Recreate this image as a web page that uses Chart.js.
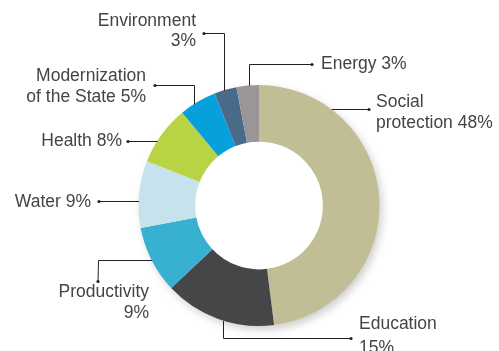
<!DOCTYPE html>
<html lang="en">
<head>
    <meta charset="UTF-8">
    <title>Budget by sector</title>
    <script src="https://cdn.jsdelivr.net/npm/chart.js"></script>
    <style>
        html, body { margin: 0; padding: 0; background: #fff; }
        canvas { display: block; }
    </style>
</head>
<body>
    <canvas id="sectorChart" width="499" height="351"></canvas>
    <script>
        // sectors, clockwise from 12 o'clock
        const sectors = ['Social protection', 'Education', 'Productivity', 'Water', 'Health', 'Modernization of the State', 'Environment', 'Energy'];
        const shares = [48, 15, 9, 9, 8, 5, 3, 3];
        const sectorColors = ['#c1be96', '#464648', '#37b0d1', '#c6e2ec', '#b8d343', '#08a0dc', '#4a6a89', '#9a9597'];

        // label text ({v} -> share) and leader routing
        const labelSpecs = [
            { lines: ['Social', 'protection {v}%'], x: 376, ys: [102, 123], align: 'left', dot: [369, 109], bend: null, end: { y: 109, side: 1 } },
            { lines: ['Education', '{v}%'], x: 359, ys: [324, 348], align: 'left', dot: [351, 338], bend: [223, 338], end: { x: 223, side: 1 } },
            { lines: ['Productivity', '{v}%'], x: 149, ys: [292, 313], align: 'right', dot: [98, 281], bend: [98, 260], end: { y: 260, side: -1 } },
            { lines: ['Water {v}%'], x: 91, ys: [202], align: 'right', dot: [99, 201], bend: null, end: { y: 201, side: -1 } },
            { lines: ['Health {v}%'], x: 122, ys: [141], align: 'right', dot: [128, 141], bend: null, end: { y: 141, side: -1 } },
            { lines: ['Modernization', 'of the State {v}%'], x: 146, ys: [76, 97], align: 'right', dot: [155, 85], bend: [194, 85], end: { x: 194, side: -1 } },
            { lines: ['Environment', '{v}%'], x: 196, ys: [21, 41], align: 'right', dot: [204, 33], bend: [224, 33], end: { x: 224, side: -1 } },
            { lines: ['Energy {v}%'], x: 321, ys: [64], align: 'left', dot: [312, 64], bend: [249, 64], end: { x: 249, side: -1 } }
        ];

        // soft shadow outside the ring only
        const ringShadow = {
            id: 'ringShadow',
            beforeDatasetsDraw(chart) {
                const arc = chart.getDatasetMeta(0).data[0];
                if (!arc) return;
                const { x, y, outerRadius } = arc;
                const ctx = chart.ctx;
                ctx.save();
                ctx.beginPath();
                ctx.rect(0, 0, chart.width, chart.height);
                ctx.arc(x, y, outerRadius - 0.5, 0, Math.PI * 2);
                ctx.clip('evenodd');
                ctx.shadowColor = 'rgba(0, 0, 0, 0.22)';
                ctx.shadowBlur = 10;
                ctx.shadowOffsetX = 3;
                ctx.shadowOffsetY = 4;
                ctx.fillStyle = '#ffffff';
                ctx.beginPath();
                ctx.arc(x, y, outerRadius - 1, 0, Math.PI * 2);
                ctx.fill();
                ctx.restore();
            }
        };

        // outside labels with leader lines ending on the ring edge
        const leaderLabels = {
            id: 'leaderLabels',
            afterDatasetsDraw(chart) {
                const meta = chart.getDatasetMeta(0);
                const ctx = chart.ctx;
                const first = meta.data[0];
                const cx = first.x, cy = first.y, R = first.outerRadius;

                ctx.save();
                labelSpecs.forEach((spec, i) => {
                    const value = chart.data.datasets[0].data[i];
                    let ex, ey;
                    if (spec.end.x !== undefined) {
                        ex = spec.end.x;
                        ey = cy + spec.end.side * Math.sqrt(Math.max(R * R - (ex - cx) * (ex - cx), 0));
                    } else {
                        ey = spec.end.y;
                        ex = cx + spec.end.side * Math.sqrt(Math.max(R * R - (ey - cy) * (ey - cy), 0));
                    }

                    ctx.strokeStyle = '#222';
                    ctx.lineWidth = 1;
                    ctx.beginPath();
                    ctx.moveTo(spec.dot[0], spec.dot[1] + 0.5);
                    if (spec.bend) ctx.lineTo(spec.bend[0] + 0.5, spec.bend[1] + 0.5);
                    ctx.lineTo(ex + 0.5, ey + 0.5);
                    ctx.stroke();

                    ctx.fillStyle = '#222';
                    ctx.beginPath();
                    ctx.arc(spec.dot[0], spec.dot[1] + 0.5, 1.6, 0, Math.PI * 2);
                    ctx.fill();

                    ctx.fillStyle = '#444';
                    ctx.font = '17.5px "Liberation Sans", Arial, sans-serif';
                    ctx.textAlign = spec.align;
                    ctx.textBaseline = 'middle';
                    spec.lines.forEach((line, k) => {
                        ctx.fillText(line.replace('{v}', value), spec.x, spec.ys[k]);
                    });
                });
                ctx.restore();
            }
        };

        const ctx = document.getElementById('sectorChart').getContext('2d');
        const sectorChart = new Chart(ctx, {
            type: 'doughnut',
            data: {
                labels: sectors,
                datasets: [{
                    data: shares,
                    backgroundColor: sectorColors,
                    borderWidth: 0,
                    hoverOffset: 0
                }]
            },
            options: {
                responsive: false,
                animation: false,
                cutout: '53%',
                layout: {
                    padding: { left: 138, right: 119, top: 85, bottom: 25 }
                },
                plugins: {
                    legend: { display: false },
                    tooltip: { enabled: false }
                }
            },
            plugins: [ringShadow, leaderLabels]
        });
    </script>
</body>
</html>
